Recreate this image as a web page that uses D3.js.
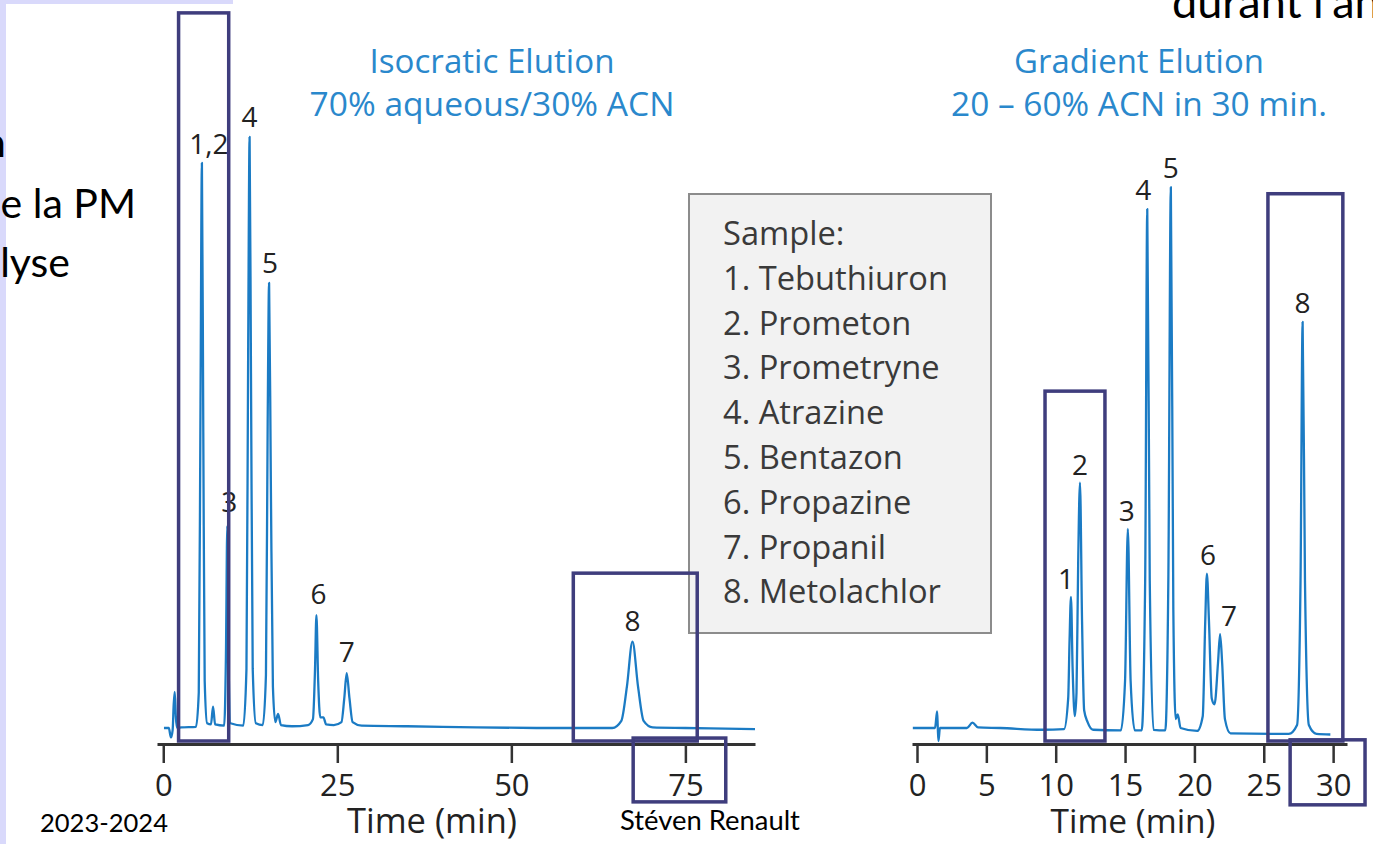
<!DOCTYPE html>
<html><head><meta charset="utf-8">
<script src="https://cdn.jsdelivr.net/npm/d3@7"></script>
<style>
html,body{margin:0;padding:0;background:#fff;overflow:hidden}
svg{display:block}
</style></head><body>
<svg id="c" width="1373" height="844"></svg>
<script>
// ---------------- DATA ----------------
// Isocratic run: time (min) and detector signal (arbitrary units, baseline 0)
const isoTime   = [0.1,0.8,1.1,1.35,1.5,1.65,1.8,2.0,2.6,4.7,5.1,5.35,5.55,5.75,5.95,6.3,6.85,7.15,7.45,8.75,9.0,9.2,9.4,9.65,11.5,11.95,12.2,12.4,12.6,12.85,13.3,14.3,14.75,15.0,15.2,15.45,15.75,16.1,16.5,16.9,18.5,20.8,21.5,21.8,22.0,22.25,22.55,23.0,23.4,24.5,25.6,26.0,26.35,26.75,27.2,28.5,35,45,55,64.5,65.8,66.6,67.4,68.2,69.0,70.3,75,85];
const isoSignal = [0,0,-1.6,-0.3,4,6.1,2,0,0.1,0.2,6,55,95.6,50,8,0.8,0.6,3.6,0.6,0.4,12,34.2,10,0.8,0.4,10,65,100,60,10,0.8,0.5,9,52,75.3,42,7,1,2.4,0.5,0.3,0.5,1.5,10,19.1,8,1.8,1.8,0.6,0.5,1,5,9.3,5,1,0.4,0.3,0.1,0,0,1.2,7,14.6,7,1.2,0.1,0,-0.2];

// Gradient run
const gradTime   = [-0.3,1.3,1.45,1.5,1.55,1.65,3.6,4.0,4.4,6,9,10.6,10.9,11.0,11.1,11.22,11.38,11.5,11.62,11.75,11.9,12.05,12.3,12.7,14.7,15.0,15.2,15.4,15.7,16.2,16.45,16.6,16.78,17.05,17.9,18.12,18.3,18.48,18.65,18.8,19.0,20.2,20.6,20.78,20.9,21.05,21.25,21.45,21.7,21.85,22.0,22.2,22.6,26.8,27.4,27.65,27.8,27.97,28.25,28.8,29.8];
const gradSignal = [0,0,2.8,0,-2.2,0,0,0.9,0.1,0,-0.3,-0.2,5,15,22.2,10,2,6,28,41.5,18,3,1,-0.3,-0.4,8,33.7,8,-0.4,-0.4,25,87.8,25,-0.3,-0.4,25,91.5,20,1.5,2.3,0,-0.5,2,18,26.1,18,5,4,11,15.9,11,1.5,-0.9,-1,0.5,25,68.7,25,0.5,-1,-1.1];

// Peak labels
const isoPeakNames   = ["1,2","3","4","5","6","7","8"];
const isoPeakTimes   = [5.55,9.2,12.4,15.2,22.0,26.35,67.4];
const isoPeakHeights = [95.6,34.2,100,75.3,19.1,9.3,14.6];
const gradPeakNames   = ["1","2","3","4","5","6","7","8"];
const gradPeakTimes   = [11.1,11.75,15.2,16.6,18.3,20.9,21.85,27.8];
const gradPeakHeights = [22.2,41.5,33.7,87.8,91.5,26.1,15.9,68.7];

// Ticks and texts
const isoTicks  = [0,25,50,75];
const gradTicks = [0,5,10,15,20,25,30];
const isoTitle  = ["Isocratic Elution","70% aqueous/30% ACN"];
const gradTitle = ["Gradient Elution","20 – 60% ACN in 30 min."];
const axisTitle = "Time (min)";
const legendTitle = "Sample:";
const compounds = ["Tebuthiuron","Prometon","Prometryne","Atrazine","Bentazon","Propazine","Propanil","Metolachlor"];

// Highlight boxes (time range, signal range) per panel
const isoBoxT0 = [2.2, 58.9, 67.5];
const isoBoxT1 = [9.4, 76.7, 80.8];
const isoBoxS0 = [-2.2, -2.2, -1.7];
const isoBoxS1 = [121, 26.2, -12.5];
const gradBoxT0 = [9.23, 25.3, 26.9];
const gradBoxT1 = [13.55, 30.7, 32.3];
const gradBoxS0 = [-2.2, -2.2, -2.0];
const gradBoxS1 = [57.0, 90.4, -13.0];

// ---------------- LAYOUT ----------------
const BLUE = "#1b7bc4", TITLE = "#2a88cc", NAVY = "#3f3d7d", AXIS = "#333";
const CHART_FONT = "'Open Sans', 'Noto Sans', sans-serif";
const SLIDE_FONT = "Lato, 'Liberation Sans', sans-serif";

const svg = d3.select("#c");

function fit(sel, w){
  const n = sel.node();
  const fs = parseFloat(sel.attr("font-size"));
  const cw = n.getComputedTextLength();
  if (cw > 0) sel.attr("font-size", fs * w / cw);
  return sel;
}

// slide background strips
svg.append("rect").attr("x",0).attr("y",0).attr("width",1373).attr("height",844).attr("fill","#fff");
svg.append("rect").attr("x",0).attr("y",0).attr("width",6).attr("height",844).attr("fill","#d9d9fb");
svg.append("rect").attr("x",0).attr("y",0).attr("width",233).attr("height",4).attr("fill","#d9d9fb");

// slide texts (cut off by the frame)
svg.append("text").attr("x",6).attr("y",157).attr("text-anchor","end").attr("font-family",SLIDE_FONT).attr("font-size",41).attr("fill","#000").text("n");
svg.append("text").attr("x",136).attr("y",218).attr("text-anchor","end").attr("font-family",SLIDE_FONT).attr("font-size",41).attr("fill","#000").text("e la PM");
svg.append("text").attr("x",70).attr("y",277).attr("text-anchor","end").attr("font-family",SLIDE_FONT).attr("font-size",41).attr("fill","#000").text("lyse");
svg.append("text").attr("x",1172).attr("y",18).attr("font-family",SLIDE_FONT).attr("font-size",45).attr("fill","#000").text("durant l’an");

// scales
const y = d3.scaleLinear().domain([0,100]).range([728,137]);
const xIso  = d3.scaleLinear().domain([-0.9, 85]).range([157, 755]);
const xGrad = d3.scaleLinear().domain([-0.36, 31.0]).range([912, 1347]);
const AXIS_Y = 744;

function drawPanel(x, times, signals, ticks, title, titleCx, titleW, peakNames, peakT, peakH, labelDx, labelDy, axisTitleCx, axisTitleW){
  // axis
  const axis = d3.axisBottom(x).tickValues(ticks).tickSize(19).tickSizeOuter(0).tickPadding(11).tickFormat(d3.format("d"));
  const g = svg.append("g").attr("transform",`translate(0,${AXIS_Y})`).call(axis);
  g.select(".domain").attr("stroke",AXIS).attr("stroke-width",3);
  g.selectAll(".tick line").attr("stroke",AXIS).attr("stroke-width",2.5);
  g.selectAll(".tick text").attr("font-family",CHART_FONT).attr("font-size",31).attr("fill","#222").attr("dy","0.71em");
  const at = svg.append("text").attr("x",axisTitleCx).attr("y",833)
    .attr("text-anchor","middle").attr("font-family",CHART_FONT).attr("font-size",30).attr("fill","#222").text(axisTitle);
  fit(at, axisTitleW);

  // trace
  const pts = times.map((t,i)=>[t, signals[i]]);
  const line = d3.line().x(d=>x(d[0])).y(d=>y(d[1])).curve(d3.curveMonotoneX);
  svg.append("path").datum(pts).attr("d",line).attr("fill","none").attr("stroke",BLUE).attr("stroke-width",2.3).attr("stroke-linejoin","round");

  // peak labels
  svg.append("g").selectAll("text").data(peakNames).join("text")
    .attr("x",(d,i)=>x(peakT[i]) + labelDx[i])
    .attr("y",(d,i)=>y(peakH[i]) + labelDy[i])
    .attr("text-anchor","middle").attr("font-family",CHART_FONT).attr("font-size",28).attr("fill","#222")
    .text(d=>d);

  // titles
  title.forEach((t,i)=>{
    const tt = svg.append("text").attr("x",titleCx).attr("y",73 + i*43).attr("text-anchor","middle")
      .attr("font-family",CHART_FONT).attr("font-size",28).attr("fill",TITLE).text(t);
    fit(tt, titleW[i]);
  });
}

drawPanel(xIso, isoTime, isoSignal, isoTicks, isoTitle, 492, [245,365],
  isoPeakNames, isoPeakTimes, isoPeakHeights,
  [7,2,0,1,2,0,0], [-9,-14,-10,-10,-11,-11,-11], 432, 170);
drawPanel(xGrad, gradTime, gradSignal, gradTicks, gradTitle, 1139, [250,376],
  gradPeakNames, gradPeakTimes, gradPeakHeights,
  [-5,0,-1,-4,0,1,9,0], [-8,-8,-8,-9,-9,-9,-8,-9], 1133, 165);

// legend
svg.append("rect").attr("x",689).attr("y",194).attr("width",302).attr("height",439)
  .attr("fill","#f2f2f2").attr("stroke","#8c8c8c").attr("stroke-width",2);
const legLines = [legendTitle].concat(compounds.map((c,i)=>`${i+1}. ${c}`));
const legT = svg.append("g").selectAll("text").data(legLines).join("text")
  .attr("x",723).attr("y",(d,i)=>245 + i*44.8)
  .attr("font-family",CHART_FONT).attr("font-size",27).attr("fill","#3a3a3a").text(d=>d);
{
  const ref = legT.filter((d,i)=>i===1);
  const fs = parseFloat(ref.attr("font-size"));
  const cw = ref.node().getComputedTextLength();
  legT.attr("font-size", fs*225/cw);
}

// highlight boxes
function boxes(x, t0, t1, s0, s1){
  svg.append("g").selectAll("rect").data(t0).join("rect")
    .attr("x",(d,i)=>x(t0[i])).attr("width",(d,i)=>x(t1[i])-x(t0[i]))
    .attr("y",(d,i)=>Math.min(y(s0[i]),y(s1[i])))
    .attr("height",(d,i)=>Math.abs(y(s0[i])-y(s1[i])))
    .attr("fill","none").attr("stroke",NAVY).attr("stroke-width",3.5);
}
boxes(xIso, isoBoxT0, isoBoxT1, isoBoxS0, isoBoxS1);
boxes(xGrad, gradBoxT0, gradBoxT1, gradBoxS0, gradBoxS1);

// footer
fit(svg.append("text").attr("x",40).attr("y",832).attr("font-family",SLIDE_FONT).attr("font-size",24).attr("fill","#000").text("2023-2024"), 128);
fit(svg.append("text").attr("x",620).attr("y",830).attr("font-family",SLIDE_FONT).attr("font-size",24).attr("fill","#000").text("Stéven Renault"), 180);
</script>
</body></html>
